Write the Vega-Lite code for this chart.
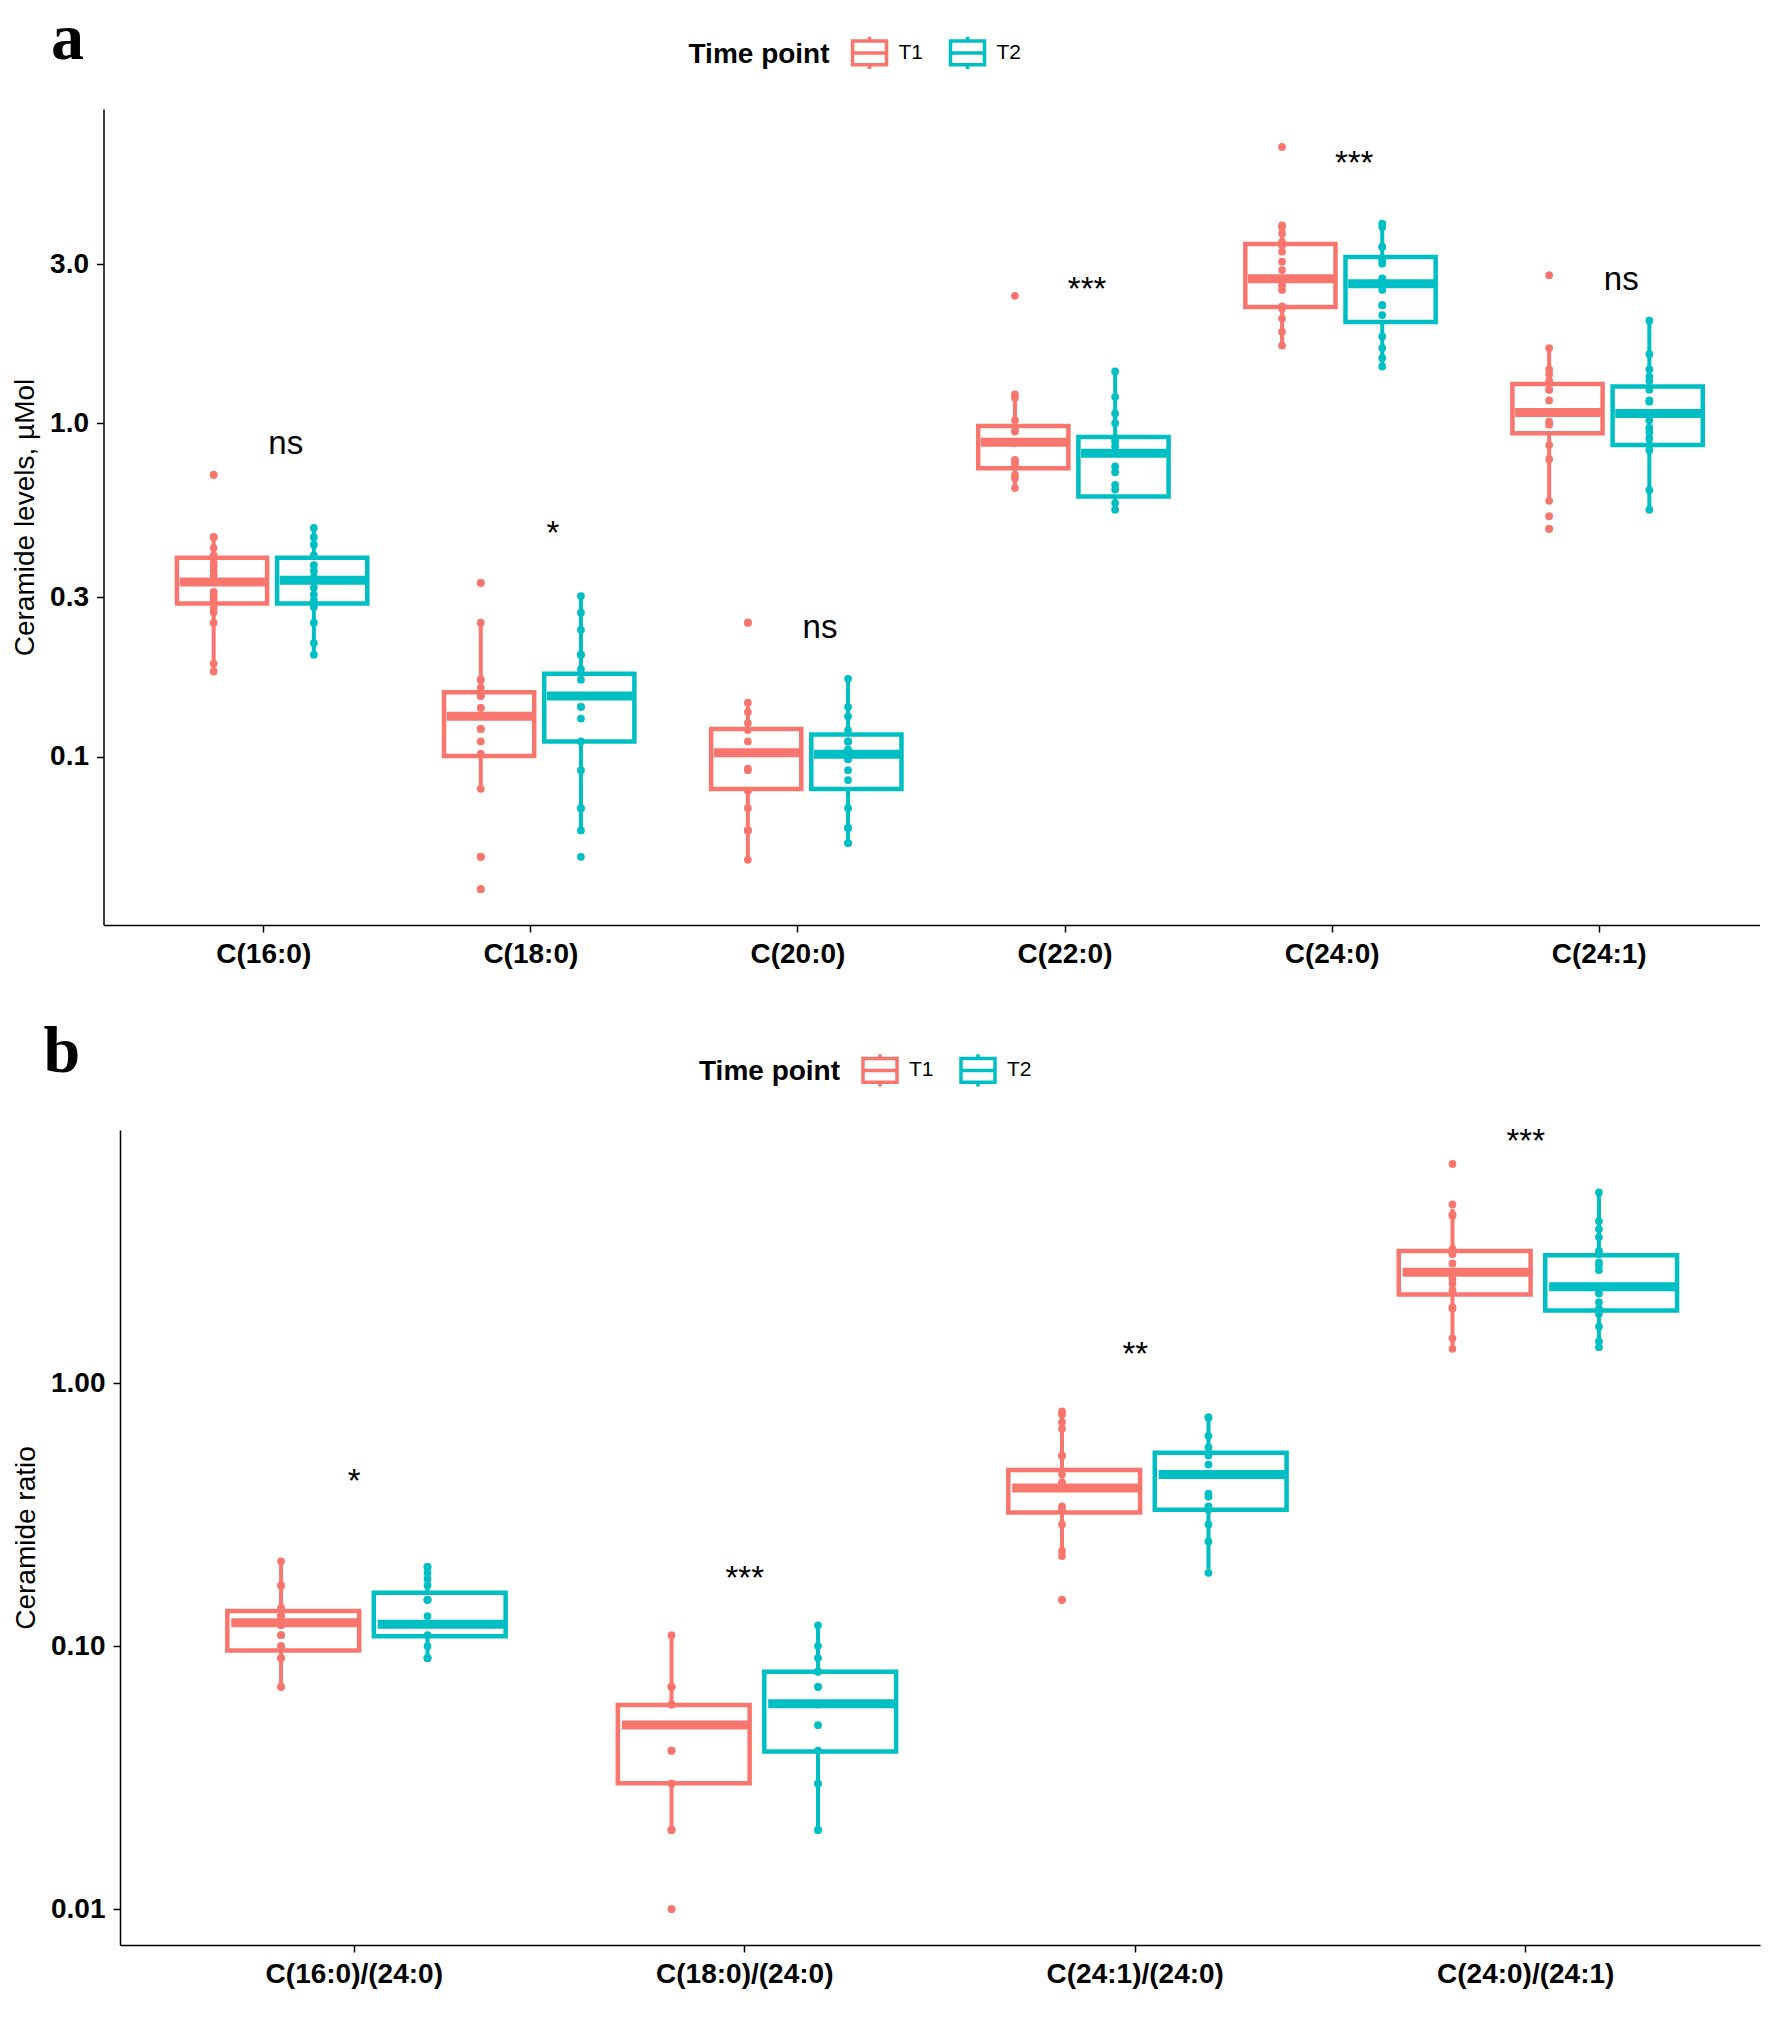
{
"$schema": "https://vega.github.io/schema/vega-lite/v6.json",
"padding": {"left": 11, "top": 5, "right": 5, "bottom": 5},
"background": "white",
"spacing": 50,
"columns": 1,
"config": {
 "font": "Liberation Sans",
 "view": {"stroke": null},
 "range": {"category": ["#F8766D", "#00BFC4"]},
 "axis": {"grid": false, "domainColor": "black", "domainWidth": 1.5, "tickColor": "black", "tickWidth": 1.5, "tickSize": 7, "labelFont": "Liberation Sans", "labelFontSize": 28, "labelFontWeight": "bold", "labelColor": "black", "titleFont": "Liberation Sans", "titleFontSize": 28, "titleFontWeight": "normal", "titleColor": "black", "labelPadding": 8},
 "axisY": {"titlePadding": 10},
 "legend": {"orient": "none", "direction": "horizontal", "titleOrient": "left", "titleFont": "Liberation Sans", "titleFontSize": 28, "titleFontWeight": "bold", "titleColor": "black", "labelFont": "Liberation Sans", "labelFontSize": 21, "labelColor": "black", "symbolType": "M-1,-0.7H1V0.7H-1Z M-1,0H1 M0,-0.95V-0.7 M0,0.7V0.95", "symbolSize": 1156, "symbolStrokeWidth": 3.5, "symbolFillColor": "white", "labelOffset": 10, "columnPadding": 20, "titlePadding": 20},
 "title": {"font": "Liberation Serif", "fontSize": 66, "fontWeight": "bold", "color": "black", "anchor": "start"}
},
"resolve": {"scale": {"stroke": "independent", "color": "independent", "y": "independent", "x": "independent", "xOffset": "independent"}, "legend": {"stroke": "independent", "color": "independent"}},
"datasets": {
 "boxA": [
  {"category": "C(16:0)", "group": "T1", "lower": 0.180, "q1": 0.288, "median": 0.334, "q3": 0.395, "upper": 0.456},
  {"category": "C(16:0)", "group": "T2", "lower": 0.203, "q1": 0.288, "median": 0.338, "q3": 0.395, "upper": 0.482},
  {"category": "C(18:0)", "group": "T1", "lower": 0.080, "q1": 0.1003, "median": 0.132, "q3": 0.156, "upper": 0.252},
  {"category": "C(18:0)", "group": "T2", "lower": 0.0606, "q1": 0.111, "median": 0.152, "q3": 0.177, "upper": 0.304},
  {"category": "C(20:0)", "group": "T1", "lower": 0.0493, "q1": 0.0799, "median": 0.1026, "q3": 0.121, "upper": 0.146},
  {"category": "C(20:0)", "group": "T2", "lower": 0.0542, "q1": 0.0799, "median": 0.1015, "q3": 0.1165, "upper": 0.171},
  {"category": "C(22:0)", "group": "T1", "lower": 0.638, "q1": 0.732, "median": 0.876, "q3": 0.98, "upper": 1.21},
  {"category": "C(22:0)", "group": "T2", "lower": 0.539, "q1": 0.603, "median": 0.813, "q3": 0.909, "upper": 1.435},
  {"category": "C(24:0)", "group": "T1", "lower": 1.73, "q1": 2.23, "median": 2.71, "q3": 3.45, "upper": 3.91},
  {"category": "C(24:0)", "group": "T2", "lower": 1.48, "q1": 2.01, "median": 2.62, "q3": 3.15, "upper": 4.01},
  {"category": "C(24:1)", "group": "T1", "lower": 0.587, "q1": 0.933, "median": 1.076, "q3": 1.31, "upper": 1.666},
  {"category": "C(24:1)", "group": "T2", "lower": 0.554, "q1": 0.86, "median": 1.07, "q3": 1.288, "upper": 2.05}
 ],
 "ptsA": [
  {"category": "C(16:0)", "group": "T1", "value": 0.70}, {"category": "C(16:0)", "group": "T1", "value": 0.70}, {"category": "C(16:0)", "group": "T1", "value": 0.455}, {"category": "C(16:0)", "group": "T1", "value": 0.455}, {"category": "C(16:0)", "group": "T1", "value": 0.422}, {"category": "C(16:0)", "group": "T1", "value": 0.401}, {"category": "C(16:0)", "group": "T1", "value": 0.381}, {"category": "C(16:0)", "group": "T1", "value": 0.372}, {"category": "C(16:0)", "group": "T1", "value": 0.360}, {"category": "C(16:0)", "group": "T1", "value": 0.350}, {"category": "C(16:0)", "group": "T1", "value": 0.312}, {"category": "C(16:0)", "group": "T1", "value": 0.306}, {"category": "C(16:0)", "group": "T1", "value": 0.300}, {"category": "C(16:0)", "group": "T1", "value": 0.294}, {"category": "C(16:0)", "group": "T1", "value": 0.279}, {"category": "C(16:0)", "group": "T1", "value": 0.271}, {"category": "C(16:0)", "group": "T1", "value": 0.252}, {"category": "C(16:0)", "group": "T1", "value": 0.190}, {"category": "C(16:0)", "group": "T1", "value": 0.180},
  {"category": "C(16:0)", "group": "T2", "value": 0.485}, {"category": "C(16:0)", "group": "T2", "value": 0.455}, {"category": "C(16:0)", "group": "T2", "value": 0.432}, {"category": "C(16:0)", "group": "T2", "value": 0.401}, {"category": "C(16:0)", "group": "T2", "value": 0.375}, {"category": "C(16:0)", "group": "T2", "value": 0.361}, {"category": "C(16:0)", "group": "T2", "value": 0.345}, {"category": "C(16:0)", "group": "T2", "value": 0.321}, {"category": "C(16:0)", "group": "T2", "value": 0.306}, {"category": "C(16:0)", "group": "T2", "value": 0.294}, {"category": "C(16:0)", "group": "T2", "value": 0.286}, {"category": "C(16:0)", "group": "T2", "value": 0.281}, {"category": "C(16:0)", "group": "T2", "value": 0.252}, {"category": "C(16:0)", "group": "T2", "value": 0.219}, {"category": "C(16:0)", "group": "T2", "value": 0.202},
  {"category": "C(18:0)", "group": "T1", "value": 0.332}, {"category": "C(18:0)", "group": "T1", "value": 0.332}, {"category": "C(18:0)", "group": "T1", "value": 0.252}, {"category": "C(18:0)", "group": "T1", "value": 0.170}, {"category": "C(18:0)", "group": "T1", "value": 0.170}, {"category": "C(18:0)", "group": "T1", "value": 0.161}, {"category": "C(18:0)", "group": "T1", "value": 0.152}, {"category": "C(18:0)", "group": "T1", "value": 0.152}, {"category": "C(18:0)", "group": "T1", "value": 0.140}, {"category": "C(18:0)", "group": "T1", "value": 0.140}, {"category": "C(18:0)", "group": "T1", "value": 0.121}, {"category": "C(18:0)", "group": "T1", "value": 0.121}, {"category": "C(18:0)", "group": "T1", "value": 0.111}, {"category": "C(18:0)", "group": "T1", "value": 0.102}, {"category": "C(18:0)", "group": "T1", "value": 0.080}, {"category": "C(18:0)", "group": "T1", "value": 0.050}, {"category": "C(18:0)", "group": "T1", "value": 0.050}, {"category": "C(18:0)", "group": "T1", "value": 0.050}, {"category": "C(18:0)", "group": "T1", "value": 0.040}, {"category": "C(18:0)", "group": "T1", "value": 0.040},
  {"category": "C(18:0)", "group": "T2", "value": 0.303}, {"category": "C(18:0)", "group": "T2", "value": 0.270}, {"category": "C(18:0)", "group": "T2", "value": 0.240}, {"category": "C(18:0)", "group": "T2", "value": 0.202}, {"category": "C(18:0)", "group": "T2", "value": 0.202}, {"category": "C(18:0)", "group": "T2", "value": 0.183}, {"category": "C(18:0)", "group": "T2", "value": 0.170}, {"category": "C(18:0)", "group": "T2", "value": 0.141}, {"category": "C(18:0)", "group": "T2", "value": 0.141}, {"category": "C(18:0)", "group": "T2", "value": 0.130}, {"category": "C(18:0)", "group": "T2", "value": 0.111}, {"category": "C(18:0)", "group": "T2", "value": 0.091}, {"category": "C(18:0)", "group": "T2", "value": 0.070}, {"category": "C(18:0)", "group": "T2", "value": 0.070}, {"category": "C(18:0)", "group": "T2", "value": 0.060}, {"category": "C(18:0)", "group": "T2", "value": 0.050},
  {"category": "C(20:0)", "group": "T1", "value": 0.252}, {"category": "C(20:0)", "group": "T1", "value": 0.252}, {"category": "C(20:0)", "group": "T1", "value": 0.145}, {"category": "C(20:0)", "group": "T1", "value": 0.136}, {"category": "C(20:0)", "group": "T1", "value": 0.126}, {"category": "C(20:0)", "group": "T1", "value": 0.120}, {"category": "C(20:0)", "group": "T1", "value": 0.111}, {"category": "C(20:0)", "group": "T1", "value": 0.092}, {"category": "C(20:0)", "group": "T1", "value": 0.091}, {"category": "C(20:0)", "group": "T1", "value": 0.079}, {"category": "C(20:0)", "group": "T1", "value": 0.070}, {"category": "C(20:0)", "group": "T1", "value": 0.060}, {"category": "C(20:0)", "group": "T1", "value": 0.060}, {"category": "C(20:0)", "group": "T1", "value": 0.060}, {"category": "C(20:0)", "group": "T1", "value": 0.049},
  {"category": "C(20:0)", "group": "T2", "value": 0.171}, {"category": "C(20:0)", "group": "T2", "value": 0.141}, {"category": "C(20:0)", "group": "T2", "value": 0.132}, {"category": "C(20:0)", "group": "T2", "value": 0.120}, {"category": "C(20:0)", "group": "T2", "value": 0.111}, {"category": "C(20:0)", "group": "T2", "value": 0.111}, {"category": "C(20:0)", "group": "T2", "value": 0.105}, {"category": "C(20:0)", "group": "T2", "value": 0.098}, {"category": "C(20:0)", "group": "T2", "value": 0.091}, {"category": "C(20:0)", "group": "T2", "value": 0.085}, {"category": "C(20:0)", "group": "T2", "value": 0.070}, {"category": "C(20:0)", "group": "T2", "value": 0.061}, {"category": "C(20:0)", "group": "T2", "value": 0.061}, {"category": "C(20:0)", "group": "T2", "value": 0.055}, {"category": "C(20:0)", "group": "T2", "value": 0.055},
  {"category": "C(22:0)", "group": "T1", "value": 2.41}, {"category": "C(22:0)", "group": "T1", "value": 1.22}, {"category": "C(22:0)", "group": "T1", "value": 1.19}, {"category": "C(22:0)", "group": "T1", "value": 1.02}, {"category": "C(22:0)", "group": "T1", "value": 0.955}, {"category": "C(22:0)", "group": "T1", "value": 0.944}, {"category": "C(22:0)", "group": "T1", "value": 0.87}, {"category": "C(22:0)", "group": "T1", "value": 0.776}, {"category": "C(22:0)", "group": "T1", "value": 0.768}, {"category": "C(22:0)", "group": "T1", "value": 0.750}, {"category": "C(22:0)", "group": "T1", "value": 0.700}, {"category": "C(22:0)", "group": "T1", "value": 0.684}, {"category": "C(22:0)", "group": "T1", "value": 0.639},
  {"category": "C(22:0)", "group": "T2", "value": 1.43}, {"category": "C(22:0)", "group": "T2", "value": 1.20}, {"category": "C(22:0)", "group": "T2", "value": 1.07}, {"category": "C(22:0)", "group": "T2", "value": 1.00}, {"category": "C(22:0)", "group": "T2", "value": 0.902}, {"category": "C(22:0)", "group": "T2", "value": 0.881}, {"category": "C(22:0)", "group": "T2", "value": 0.852}, {"category": "C(22:0)", "group": "T2", "value": 0.742}, {"category": "C(22:0)", "group": "T2", "value": 0.713}, {"category": "C(22:0)", "group": "T2", "value": 0.653}, {"category": "C(22:0)", "group": "T2", "value": 0.632}, {"category": "C(22:0)", "group": "T2", "value": 0.576}, {"category": "C(22:0)", "group": "T2", "value": 0.550},
  {"category": "C(24:0)", "group": "T1", "value": 6.74}, {"category": "C(24:0)", "group": "T1", "value": 3.92}, {"category": "C(24:0)", "group": "T1", "value": 3.88}, {"category": "C(24:0)", "group": "T1", "value": 3.71}, {"category": "C(24:0)", "group": "T1", "value": 3.50}, {"category": "C(24:0)", "group": "T1", "value": 3.42}, {"category": "C(24:0)", "group": "T1", "value": 3.27}, {"category": "C(24:0)", "group": "T1", "value": 3.05}, {"category": "C(24:0)", "group": "T1", "value": 2.88}, {"category": "C(24:0)", "group": "T1", "value": 2.59}, {"category": "C(24:0)", "group": "T1", "value": 2.51}, {"category": "C(24:0)", "group": "T1", "value": 2.24}, {"category": "C(24:0)", "group": "T1", "value": 2.21}, {"category": "C(24:0)", "group": "T1", "value": 2.06}, {"category": "C(24:0)", "group": "T1", "value": 1.88}, {"category": "C(24:0)", "group": "T1", "value": 1.71},
  {"category": "C(24:0)", "group": "T2", "value": 3.97}, {"category": "C(24:0)", "group": "T2", "value": 3.88}, {"category": "C(24:0)", "group": "T2", "value": 3.38}, {"category": "C(24:0)", "group": "T2", "value": 3.38}, {"category": "C(24:0)", "group": "T2", "value": 3.12}, {"category": "C(24:0)", "group": "T2", "value": 3.08}, {"category": "C(24:0)", "group": "T2", "value": 3.01}, {"category": "C(24:0)", "group": "T2", "value": 2.72}, {"category": "C(24:0)", "group": "T2", "value": 2.51}, {"category": "C(24:0)", "group": "T2", "value": 2.26}, {"category": "C(24:0)", "group": "T2", "value": 2.26}, {"category": "C(24:0)", "group": "T2", "value": 2.11}, {"category": "C(24:0)", "group": "T2", "value": 1.82}, {"category": "C(24:0)", "group": "T2", "value": 1.68}, {"category": "C(24:0)", "group": "T2", "value": 1.57}, {"category": "C(24:0)", "group": "T2", "value": 1.48},
  {"category": "C(24:1)", "group": "T1", "value": 2.78}, {"category": "C(24:1)", "group": "T1", "value": 1.68}, {"category": "C(24:1)", "group": "T1", "value": 1.45}, {"category": "C(24:1)", "group": "T1", "value": 1.40}, {"category": "C(24:1)", "group": "T1", "value": 1.34}, {"category": "C(24:1)", "group": "T1", "value": 1.26}, {"category": "C(24:1)", "group": "T1", "value": 1.26}, {"category": "C(24:1)", "group": "T1", "value": 1.17}, {"category": "C(24:1)", "group": "T1", "value": 1.01}, {"category": "C(24:1)", "group": "T1", "value": 0.99}, {"category": "C(24:1)", "group": "T1", "value": 0.86}, {"category": "C(24:1)", "group": "T1", "value": 0.78}, {"category": "C(24:1)", "group": "T1", "value": 0.585}, {"category": "C(24:1)", "group": "T1", "value": 0.526}, {"category": "C(24:1)", "group": "T1", "value": 0.482}, {"category": "C(24:1)", "group": "T1", "value": 0.482},
  {"category": "C(24:1)", "group": "T2", "value": 2.03}, {"category": "C(24:1)", "group": "T2", "value": 1.61}, {"category": "C(24:1)", "group": "T2", "value": 1.45}, {"category": "C(24:1)", "group": "T2", "value": 1.38}, {"category": "C(24:1)", "group": "T2", "value": 1.34}, {"category": "C(24:1)", "group": "T2", "value": 1.26}, {"category": "C(24:1)", "group": "T2", "value": 1.17}, {"category": "C(24:1)", "group": "T2", "value": 1.16}, {"category": "C(24:1)", "group": "T2", "value": 1.02}, {"category": "C(24:1)", "group": "T2", "value": 0.97}, {"category": "C(24:1)", "group": "T2", "value": 0.94}, {"category": "C(24:1)", "group": "T2", "value": 0.90}, {"category": "C(24:1)", "group": "T2", "value": 0.86}, {"category": "C(24:1)", "group": "T2", "value": 0.83}, {"category": "C(24:1)", "group": "T2", "value": 0.63}, {"category": "C(24:1)", "group": "T2", "value": 0.55}
 ],
 "labA": [
  {"category": "C(16:0)", "label": "ns", "y": 0.868},
  {"category": "C(18:0)", "label": "*", "y": 0.465},
  {"category": "C(20:0)", "label": "ns", "y": 0.243},
  {"category": "C(22:0)", "label": "***", "y": 2.51},
  {"category": "C(24:0)", "label": "***", "y": 5.99},
  {"category": "C(24:1)", "label": "ns", "y": 2.69}
 ],
 "boxB": [
  {"category": "C(16:0)/(24:0)", "group": "T1", "lower": 0.0699, "q1": 0.0961, "median": 0.1227, "q3": 0.136, "upper": 0.211},
  {"category": "C(16:0)/(24:0)", "group": "T2", "lower": 0.0897, "q1": 0.109, "median": 0.121, "q3": 0.1595, "upper": 0.201},
  {"category": "C(18:0)/(24:0)", "group": "T1", "lower": 0.0198, "q1": 0.0301, "median": 0.0501, "q3": 0.0597, "upper": 0.110},
  {"category": "C(18:0)/(24:0)", "group": "T2", "lower": 0.020, "q1": 0.0397, "median": 0.0604, "q3": 0.0798, "upper": 0.121},
  {"category": "C(24:1)/(24:0)", "group": "T1", "lower": 0.2196, "q1": 0.322, "median": 0.3995, "q3": 0.467, "upper": 0.779},
  {"category": "C(24:1)/(24:0)", "group": "T2", "lower": 0.1965, "q1": 0.330, "median": 0.449, "q3": 0.543, "upper": 0.744},
  {"category": "C(24:0)/(24:1)", "group": "T1", "lower": 1.33, "q1": 2.17, "median": 2.64, "q3": 3.18, "upper": 4.59},
  {"category": "C(24:0)/(24:1)", "group": "T2", "lower": 1.37, "q1": 1.887, "median": 2.325, "q3": 3.06, "upper": 5.31}
 ],
 "ptsB": [
  {"category": "C(16:0)/(24:0)", "group": "T1", "value": 0.21}, {"category": "C(16:0)/(24:0)", "group": "T1", "value": 0.17}, {"category": "C(16:0)/(24:0)", "group": "T1", "value": 0.17}, {"category": "C(16:0)/(24:0)", "group": "T1", "value": 0.14}, {"category": "C(16:0)/(24:0)", "group": "T1", "value": 0.13}, {"category": "C(16:0)/(24:0)", "group": "T1", "value": 0.13}, {"category": "C(16:0)/(24:0)", "group": "T1", "value": 0.12}, {"category": "C(16:0)/(24:0)", "group": "T1", "value": 0.11}, {"category": "C(16:0)/(24:0)", "group": "T1", "value": 0.11}, {"category": "C(16:0)/(24:0)", "group": "T1", "value": 0.10}, {"category": "C(16:0)/(24:0)", "group": "T1", "value": 0.10}, {"category": "C(16:0)/(24:0)", "group": "T1", "value": 0.09}, {"category": "C(16:0)/(24:0)", "group": "T1", "value": 0.09}, {"category": "C(16:0)/(24:0)", "group": "T1", "value": 0.07}, {"category": "C(16:0)/(24:0)", "group": "T1", "value": 0.07},
  {"category": "C(16:0)/(24:0)", "group": "T2", "value": 0.20}, {"category": "C(16:0)/(24:0)", "group": "T2", "value": 0.20}, {"category": "C(16:0)/(24:0)", "group": "T2", "value": 0.19}, {"category": "C(16:0)/(24:0)", "group": "T2", "value": 0.18}, {"category": "C(16:0)/(24:0)", "group": "T2", "value": 0.17}, {"category": "C(16:0)/(24:0)", "group": "T2", "value": 0.15}, {"category": "C(16:0)/(24:0)", "group": "T2", "value": 0.15}, {"category": "C(16:0)/(24:0)", "group": "T2", "value": 0.15}, {"category": "C(16:0)/(24:0)", "group": "T2", "value": 0.13}, {"category": "C(16:0)/(24:0)", "group": "T2", "value": 0.11}, {"category": "C(16:0)/(24:0)", "group": "T2", "value": 0.10}, {"category": "C(16:0)/(24:0)", "group": "T2", "value": 0.09}, {"category": "C(16:0)/(24:0)", "group": "T2", "value": 0.09}, {"category": "C(16:0)/(24:0)", "group": "T2", "value": 0.09},
  {"category": "C(18:0)/(24:0)", "group": "T1", "value": 0.11}, {"category": "C(18:0)/(24:0)", "group": "T1", "value": 0.07}, {"category": "C(18:0)/(24:0)", "group": "T1", "value": 0.07}, {"category": "C(18:0)/(24:0)", "group": "T1", "value": 0.07}, {"category": "C(18:0)/(24:0)", "group": "T1", "value": 0.06}, {"category": "C(18:0)/(24:0)", "group": "T1", "value": 0.06}, {"category": "C(18:0)/(24:0)", "group": "T1", "value": 0.06}, {"category": "C(18:0)/(24:0)", "group": "T1", "value": 0.04}, {"category": "C(18:0)/(24:0)", "group": "T1", "value": 0.04}, {"category": "C(18:0)/(24:0)", "group": "T1", "value": 0.03}, {"category": "C(18:0)/(24:0)", "group": "T1", "value": 0.03}, {"category": "C(18:0)/(24:0)", "group": "T1", "value": 0.02}, {"category": "C(18:0)/(24:0)", "group": "T1", "value": 0.02}, {"category": "C(18:0)/(24:0)", "group": "T1", "value": 0.02}, {"category": "C(18:0)/(24:0)", "group": "T1", "value": 0.01}, {"category": "C(18:0)/(24:0)", "group": "T1", "value": 0.01},
  {"category": "C(18:0)/(24:0)", "group": "T2", "value": 0.12}, {"category": "C(18:0)/(24:0)", "group": "T2", "value": 0.10}, {"category": "C(18:0)/(24:0)", "group": "T2", "value": 0.09}, {"category": "C(18:0)/(24:0)", "group": "T2", "value": 0.08}, {"category": "C(18:0)/(24:0)", "group": "T2", "value": 0.08}, {"category": "C(18:0)/(24:0)", "group": "T2", "value": 0.08}, {"category": "C(18:0)/(24:0)", "group": "T2", "value": 0.07}, {"category": "C(18:0)/(24:0)", "group": "T2", "value": 0.07}, {"category": "C(18:0)/(24:0)", "group": "T2", "value": 0.06}, {"category": "C(18:0)/(24:0)", "group": "T2", "value": 0.05}, {"category": "C(18:0)/(24:0)", "group": "T2", "value": 0.04}, {"category": "C(18:0)/(24:0)", "group": "T2", "value": 0.03}, {"category": "C(18:0)/(24:0)", "group": "T2", "value": 0.03}, {"category": "C(18:0)/(24:0)", "group": "T2", "value": 0.02}, {"category": "C(18:0)/(24:0)", "group": "T2", "value": 0.02},
  {"category": "C(24:1)/(24:0)", "group": "T1", "value": 0.78}, {"category": "C(24:1)/(24:0)", "group": "T1", "value": 0.76}, {"category": "C(24:1)/(24:0)", "group": "T1", "value": 0.71}, {"category": "C(24:1)/(24:0)", "group": "T1", "value": 0.67}, {"category": "C(24:1)/(24:0)", "group": "T1", "value": 0.53}, {"category": "C(24:1)/(24:0)", "group": "T1", "value": 0.53}, {"category": "C(24:1)/(24:0)", "group": "T1", "value": 0.45}, {"category": "C(24:1)/(24:0)", "group": "T1", "value": 0.42}, {"category": "C(24:1)/(24:0)", "group": "T1", "value": 0.41}, {"category": "C(24:1)/(24:0)", "group": "T1", "value": 0.34}, {"category": "C(24:1)/(24:0)", "group": "T1", "value": 0.33}, {"category": "C(24:1)/(24:0)", "group": "T1", "value": 0.33}, {"category": "C(24:1)/(24:0)", "group": "T1", "value": 0.29}, {"category": "C(24:1)/(24:0)", "group": "T1", "value": 0.23}, {"category": "C(24:1)/(24:0)", "group": "T1", "value": 0.22}, {"category": "C(24:1)/(24:0)", "group": "T1", "value": 0.15}, {"category": "C(24:1)/(24:0)", "group": "T1", "value": 0.15},
  {"category": "C(24:1)/(24:0)", "group": "T2", "value": 0.74}, {"category": "C(24:1)/(24:0)", "group": "T2", "value": 0.74}, {"category": "C(24:1)/(24:0)", "group": "T2", "value": 0.63}, {"category": "C(24:1)/(24:0)", "group": "T2", "value": 0.57}, {"category": "C(24:1)/(24:0)", "group": "T2", "value": 0.53}, {"category": "C(24:1)/(24:0)", "group": "T2", "value": 0.49}, {"category": "C(24:1)/(24:0)", "group": "T2", "value": 0.38}, {"category": "C(24:1)/(24:0)", "group": "T2", "value": 0.37}, {"category": "C(24:1)/(24:0)", "group": "T2", "value": 0.34}, {"category": "C(24:1)/(24:0)", "group": "T2", "value": 0.33}, {"category": "C(24:1)/(24:0)", "group": "T2", "value": 0.29}, {"category": "C(24:1)/(24:0)", "group": "T2", "value": 0.25}, {"category": "C(24:1)/(24:0)", "group": "T2", "value": 0.19},
  {"category": "C(24:0)/(24:1)", "group": "T1", "value": 6.81}, {"category": "C(24:0)/(24:1)", "group": "T1", "value": 4.78}, {"category": "C(24:0)/(24:1)", "group": "T1", "value": 4.38}, {"category": "C(24:0)/(24:1)", "group": "T1", "value": 4.33}, {"category": "C(24:0)/(24:1)", "group": "T1", "value": 3.24}, {"category": "C(24:0)/(24:1)", "group": "T1", "value": 3.15}, {"category": "C(24:0)/(24:1)", "group": "T1", "value": 3.09}, {"category": "C(24:0)/(24:1)", "group": "T1", "value": 2.85}, {"category": "C(24:0)/(24:1)", "group": "T1", "value": 2.49}, {"category": "C(24:0)/(24:1)", "group": "T1", "value": 2.39}, {"category": "C(24:0)/(24:1)", "group": "T1", "value": 2.26}, {"category": "C(24:0)/(24:1)", "group": "T1", "value": 2.22}, {"category": "C(24:0)/(24:1)", "group": "T1", "value": 1.94}, {"category": "C(24:0)/(24:1)", "group": "T1", "value": 1.92}, {"category": "C(24:0)/(24:1)", "group": "T1", "value": 1.48}, {"category": "C(24:0)/(24:1)", "group": "T1", "value": 1.35},
  {"category": "C(24:0)/(24:1)", "group": "T2", "value": 5.31}, {"category": "C(24:0)/(24:1)", "group": "T2", "value": 4.13}, {"category": "C(24:0)/(24:1)", "group": "T2", "value": 3.85}, {"category": "C(24:0)/(24:1)", "group": "T2", "value": 3.59}, {"category": "C(24:0)/(24:1)", "group": "T2", "value": 3.18}, {"category": "C(24:0)/(24:1)", "group": "T2", "value": 3.09}, {"category": "C(24:0)/(24:1)", "group": "T2", "value": 2.88}, {"category": "C(24:0)/(24:1)", "group": "T2", "value": 2.80}, {"category": "C(24:0)/(24:1)", "group": "T2", "value": 2.69}, {"category": "C(24:0)/(24:1)", "group": "T2", "value": 2.28}, {"category": "C(24:0)/(24:1)", "group": "T2", "value": 2.19}, {"category": "C(24:0)/(24:1)", "group": "T2", "value": 2.03}, {"category": "C(24:0)/(24:1)", "group": "T2", "value": 1.92}, {"category": "C(24:0)/(24:1)", "group": "T2", "value": 1.83}, {"category": "C(24:0)/(24:1)", "group": "T2", "value": 1.64}, {"category": "C(24:0)/(24:1)", "group": "T2", "value": 1.44}, {"category": "C(24:0)/(24:1)", "group": "T2", "value": 1.37}
 ],
 "labB": [
  {"category": "C(16:0)/(24:0)", "label": "*", "y": 0.419},
  {"category": "C(18:0)/(24:0)", "label": "***", "y": 0.180},
  {"category": "C(24:1)/(24:0)", "label": "**", "y": 1.28},
  {"category": "C(24:0)/(24:1)", "label": "***", "y": 8.24}
 ]
},
"concat": [
 {
  "width": 1640, "height": 816,
  "title": {"text": "a", "dx": 39.5, "dy": 43},
  "encoding": {
   "x": {"field": "category", "type": "nominal", "title": null, "sort": ["C(16:0)", "C(18:0)", "C(20:0)", "C(22:0)", "C(24:0)", "C(24:1)"], "scale": {"paddingInner": 0, "paddingOuter": 0.1, "range": [-16.5, 1639.5]}, "axis": {"labelAngle": 0}}
  },
  "layer": [
   {"data": {"name": "boxA"}, "mark": {"type": "rule", "strokeWidth": 4},
    "encoding": {"xOffset": {"field": "group", "type": "nominal", "scale": {"paddingInner": 0, "paddingOuter": 0.333}},
     "y": {"field": "lower", "type": "quantitative", "title": "Ceramide levels, µMol", "scale": {"type": "log", "domain": [0.03123, 8.76], "nice": false}, "axis": {"values": [0.1, 0.3, 1, 3], "format": ".1f", "offset": 16.5}},
     "y2": {"field": "q1"},
     "stroke": {"field": "group", "type": "nominal", "legend": {"title": "Time point", "legendX": 568.5, "legendY": -75.5}}}},
   {"data": {"name": "boxA"}, "mark": {"type": "rule", "strokeWidth": 4},
    "encoding": {"xOffset": {"field": "group", "type": "nominal", "scale": {"paddingInner": 0, "paddingOuter": 0.333}},
     "y": {"field": "q3", "type": "quantitative", "title": "Ceramide levels, µMol", "scale": {"type": "log", "domain": [0.03123, 8.76], "nice": false}, "axis": {"values": [0.1, 0.3, 1, 3], "format": ".1f", "offset": 16.5}},
     "y2": {"field": "upper"},
     "stroke": {"field": "group", "type": "nominal"}}},
   {"data": {"name": "boxA"}, "mark": {"type": "bar", "filled": false, "strokeWidth": 4.5, "width": {"band": 0.9}},
    "encoding": {"xOffset": {"field": "group", "type": "nominal", "scale": {"paddingInner": 0, "paddingOuter": 0.333}},
     "y": {"field": "q1", "type": "quantitative", "title": "Ceramide levels, µMol", "scale": {"type": "log", "domain": [0.03123, 8.76], "nice": false}, "axis": {"values": [0.1, 0.3, 1, 3], "format": ".1f", "offset": 16.5}},
     "y2": {"field": "q3"},
     "stroke": {"field": "group", "type": "nominal"}}},
   {"data": {"name": "boxA"}, "mark": {"type": "bar", "filled": false, "strokeWidth": 9, "width": {"band": 0.88}},
    "encoding": {"xOffset": {"field": "group", "type": "nominal", "scale": {"paddingInner": 0, "paddingOuter": 0.333}},
     "y": {"field": "median", "type": "quantitative", "title": "Ceramide levels, µMol", "scale": {"type": "log", "domain": [0.03123, 8.76], "nice": false}, "axis": {"values": [0.1, 0.3, 1, 3], "format": ".1f", "offset": 16.5}},
     "y2": {"field": "median"},
     "stroke": {"field": "group", "type": "nominal"}}},
   {"data": {"name": "ptsA"}, "mark": {"type": "circle", "size": 60, "opacity": 1},
    "encoding": {"xOffset": {"field": "group", "type": "nominal", "scale": {"paddingInner": 0, "paddingOuter": 0.333}},
     "y": {"field": "value", "type": "quantitative", "title": "Ceramide levels, µMol", "scale": {"type": "log", "domain": [0.03123, 8.76], "nice": false}, "axis": {"values": [0.1, 0.3, 1, 3], "format": ".1f", "offset": 16.5}},
     "color": {"field": "group", "type": "nominal", "legend": null}}},
   {"data": {"name": "labA"}, "mark": {"type": "text", "fontSize": 33, "dx": 22, "baseline": "middle", "color": "black", "font": "Liberation Sans"},
    "encoding": {
     "y": {"field": "y", "type": "quantitative", "title": "Ceramide levels, µMol", "scale": {"type": "log", "domain": [0.03123, 8.76], "nice": false}, "axis": {"values": [0.1, 0.3, 1, 3], "format": ".1f", "offset": 16.5}},
     "text": {"field": "label"}}}
  ]
 },
 {
  "width": 1640, "height": 815,
  "title": {"text": "b", "dx": 31, "dy": 38.5},
  "encoding": {
   "x": {"field": "category", "type": "nominal", "title": null, "sort": ["C(16:0)/(24:0)", "C(18:0)/(24:0)", "C(24:1)/(24:0)", "C(24:0)/(24:1)"], "scale": {"paddingInner": 0, "paddingOuter": 0.1}, "axis": {"labelAngle": 0}}
  },
  "layer": [
   {"data": {"name": "boxB"}, "mark": {"type": "rule", "strokeWidth": 4},
    "encoding": {"xOffset": {"field": "group", "type": "nominal", "scale": {"paddingInner": 0, "paddingOuter": 0.333}},
     "y": {"field": "lower", "type": "quantitative", "title": "Ceramide ratio", "scale": {"type": "log", "domain": [0.0073, 9.17], "nice": false}, "axis": {"values": [0.01, 0.1, 1], "format": ".2f"}},
     "y2": {"field": "q1"},
     "stroke": {"field": "group", "type": "nominal", "legend": {"title": "Time point", "legendX": 579, "legendY": -79}}}},
   {"data": {"name": "boxB"}, "mark": {"type": "rule", "strokeWidth": 4},
    "encoding": {"xOffset": {"field": "group", "type": "nominal", "scale": {"paddingInner": 0, "paddingOuter": 0.333}},
     "y": {"field": "q3", "type": "quantitative", "title": "Ceramide ratio", "scale": {"type": "log", "domain": [0.0073, 9.17], "nice": false}, "axis": {"values": [0.01, 0.1, 1], "format": ".2f"}},
     "y2": {"field": "upper"},
     "stroke": {"field": "group", "type": "nominal"}}},
   {"data": {"name": "boxB"}, "mark": {"type": "bar", "filled": false, "strokeWidth": 4.5, "width": {"band": 0.9}},
    "encoding": {"xOffset": {"field": "group", "type": "nominal", "scale": {"paddingInner": 0, "paddingOuter": 0.333}},
     "y": {"field": "q1", "type": "quantitative", "title": "Ceramide ratio", "scale": {"type": "log", "domain": [0.0073, 9.17], "nice": false}, "axis": {"values": [0.01, 0.1, 1], "format": ".2f"}},
     "y2": {"field": "q3"},
     "stroke": {"field": "group", "type": "nominal"}}},
   {"data": {"name": "boxB"}, "mark": {"type": "bar", "filled": false, "strokeWidth": 9, "width": {"band": 0.88}},
    "encoding": {"xOffset": {"field": "group", "type": "nominal", "scale": {"paddingInner": 0, "paddingOuter": 0.333}},
     "y": {"field": "median", "type": "quantitative", "title": "Ceramide ratio", "scale": {"type": "log", "domain": [0.0073, 9.17], "nice": false}, "axis": {"values": [0.01, 0.1, 1], "format": ".2f"}},
     "y2": {"field": "median"},
     "stroke": {"field": "group", "type": "nominal"}}},
   {"data": {"name": "ptsB"}, "mark": {"type": "circle", "size": 60, "opacity": 1},
    "encoding": {"xOffset": {"field": "group", "type": "nominal", "scale": {"paddingInner": 0, "paddingOuter": 0.333}},
     "y": {"field": "value", "type": "quantitative", "title": "Ceramide ratio", "scale": {"type": "log", "domain": [0.0073, 9.17], "nice": false}, "axis": {"values": [0.01, 0.1, 1], "format": ".2f"}},
     "color": {"field": "group", "type": "nominal", "legend": null}}},
   {"data": {"name": "labB"}, "mark": {"type": "text", "fontSize": 33, "baseline": "middle", "color": "black", "font": "Liberation Sans"},
    "encoding": {
     "y": {"field": "y", "type": "quantitative", "title": "Ceramide ratio", "scale": {"type": "log", "domain": [0.0073, 9.17], "nice": false}, "axis": {"values": [0.01, 0.1, 1], "format": ".2f"}},
     "text": {"field": "label"}}}
  ]
 }
]
}
